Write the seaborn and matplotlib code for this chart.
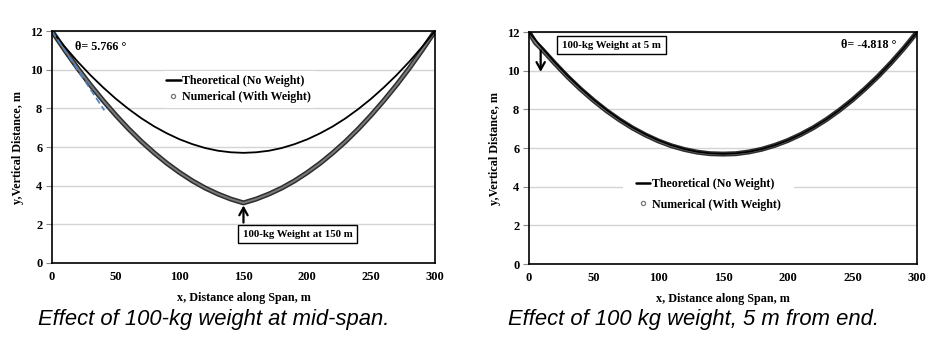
import matplotlib
matplotlib.use("Agg")
import matplotlib.pyplot as plt
from matplotlib.lines import Line2D
import seaborn as sns
import pandas as pd

# ---- data ----
x_theory = [0, 10, 20, 30, 40, 50, 60, 70, 80, 90, 100, 110, 120, 130, 140, 150,
            160, 170, 180, 190, 200, 210, 220, 230, 240, 250, 260, 270, 280, 290, 300]
y_theory = [12.0, 11.19, 10.43, 9.73, 9.09, 8.50, 7.97, 7.49, 7.07, 6.71, 6.40, 6.15, 5.95, 5.81, 5.73, 5.70,
            5.73, 5.81, 5.95, 6.15, 6.40, 6.71, 7.07, 7.49, 7.97, 8.50, 9.09, 9.73, 10.43, 11.19, 12.0]

x_num_mid = [0, 10, 20, 30, 40, 50, 60, 70, 80, 90, 100, 110, 120, 130, 140, 150,
             160, 170, 180, 190, 200, 210, 220, 230, 240, 250, 260, 270, 280, 290, 300]
y_num_mid = [12.0, 11.02, 10.09, 9.22, 8.41, 7.65, 6.94, 6.29, 5.70, 5.16, 4.68, 4.25, 3.88, 3.57, 3.31, 3.11,
             3.31, 3.57, 3.88, 4.25, 4.68, 5.16, 5.70, 6.29, 6.94, 7.65, 8.41, 9.22, 10.09, 11.02, 12.0]

x_num_end = [0, 5, 10, 20, 30, 40, 50, 60, 70, 80, 90, 100, 110, 120, 130, 140, 150,
             160, 170, 180, 190, 200, 210, 220, 230, 240, 250, 260, 270, 280, 290, 300]
y_num_end = [12.0, 11.45, 11.12, 10.38, 9.68, 9.04, 8.46, 7.93, 7.46, 7.04, 6.68, 6.37, 6.12, 5.93, 5.79, 5.71, 5.69,
             5.71, 5.80, 5.94, 6.14, 6.39, 6.70, 7.06, 7.48, 7.96, 8.49, 9.08, 9.72, 10.42, 11.18, 12.0]

x_tangent = [0, 41]
y_tangent = [12.0, 7.9]

x_ticks = [0, 50, 100, 150, 200, 250, 300]
y_ticks = [0, 2, 4, 6, 8, 10, 12]

labels = ["Theoretical (No Weight)", "Numerical (With Weight)"]
angles = ["θ= 5.766 °", "θ= -4.818 °"]
notes = ["100-kg Weight at 150 m", "100-kg Weight at 5 m"]
captions = ["Effect of 100-kg weight at mid-span.", "Effect of 100 kg weight, 5 m from end."]
xlabel = "x, Distance along Span, m"
ylabel = "y,Vertical Distance, m"

sns.set_theme(style="white")
plt.rcParams["font.family"] = ["Liberation Serif", "DejaVu Serif"]
plt.rcParams["font.weight"] = "bold"
plt.rcParams["text.color"] = "black"
plt.rcParams["axes.labelcolor"] = "black"
plt.rcParams["xtick.color"] = "black"
plt.rcParams["ytick.color"] = "black"

fig = plt.figure(figsize=(9.35, 3.42), dpi=100)
axL = fig.add_axes([0.0556, 0.231, 0.4096, 0.678])
axR = fig.add_axes([0.5658, 0.228, 0.415, 0.678])

df_t = pd.DataFrame({"x": x_theory, "y": y_theory})
df_m = pd.DataFrame({"x": x_num_mid, "y": y_num_mid})
df_e = pd.DataFrame({"x": x_num_end, "y": y_num_end})


def style_axes(ax):
    ax.set_xlim(0, 300)
    ax.set_ylim(0, 12)
    ax.set_xticks(x_ticks)
    ax.set_yticks(y_ticks)
    ax.yaxis.grid(True, color="#d4d4d4", lw=1.0)
    ax.xaxis.grid(False)
    ax.set_axisbelow(True)
    for s in ax.spines.values():
        s.set_color("black")
        s.set_linewidth(1.2)
        s.set_visible(True)
    ax.tick_params(axis="y", length=4, width=0.8, color="#888888", labelcolor="black",
                   direction="out", labelsize=9, pad=3, left=True)
    ax.tick_params(axis="x", length=0, labelsize=9, labelcolor="black", pad=6)
    for t in ax.get_xticklabels() + ax.get_yticklabels():
        t.set_fontweight("bold")
    ax.set_xlabel(xlabel, fontsize=8.7, fontweight="bold", labelpad=6)
    ax.set_ylabel(ylabel, fontsize=8.7, fontweight="bold", labelpad=4)


def num_band(ax, df):
    sns.lineplot(data=df, x="x", y="y", ax=ax, color="#2e2e2e", lw=3.6, sort=False, legend=False)
    sns.lineplot(data=df, x="x", y="y", ax=ax, color="#7a7a7a", lw=1.4, sort=False, legend=False)


handles = [Line2D([], [], color="black", lw=1.8),
           Line2D([], [], marker="o", ls="none", markersize=3, mfc="white", mec="#777777", mew=0.9)]

# ---- left panel ----
num_band(axL, df_m)
sns.lineplot(data=df_t, x="x", y="y", ax=axL, color="black", lw=1.3, sort=False, legend=False)
axL.plot(x_tangent, y_tangent, color="#4a7fc1", lw=1.2, ls=(0, (4, 2)))
style_axes(axL)
axL.text(18, 11.17, angles[0], fontsize=8.7, fontweight="bold", va="center", ha="left")
axL.annotate("", xy=(150, 3.12), xytext=(150, 1.95),
             arrowprops=dict(arrowstyle="->,head_length=0.45,head_width=0.25", lw=1.6, color="black"))
axL.text(149.5, 1.5, notes[0], fontsize=7.8, fontweight="bold", ha="left", va="center",
         bbox=dict(boxstyle="square,pad=0.45", fc="white", ec="black", lw=1.0))
legL = axL.legend(handles, labels, loc="center", bbox_to_anchor=(0.487, 0.75), fontsize=8.6,
                  frameon=True, facecolor="white", edgecolor="none", framealpha=1,
                  handlelength=1.2, handletextpad=0.1, labelspacing=0.28, borderpad=0.4)
for t in legL.get_texts():
    t.set_fontweight("bold")

# ---- right panel ----
num_band(axR, df_e)
sns.lineplot(data=df_t, x="x", y="y", ax=axR, color="black", lw=1.3, sort=False, legend=False)
style_axes(axR)
axR.text(241, 11.33, angles[1], fontsize=8.7, fontweight="bold", va="center", ha="left")
axR.annotate("", xy=(9, 9.8), xytext=(9, 11.2),
             arrowprops=dict(arrowstyle="->,head_length=0.45,head_width=0.25", lw=1.6, color="black"))
axR.text(25.5, 11.33, notes[1], fontsize=7.8, fontweight="bold", ha="left", va="center",
         bbox=dict(boxstyle="square,pad=0.45", fc="white", ec="black", lw=1.0))
legR = axR.legend(handles, labels, loc="center", bbox_to_anchor=(0.462, 0.30), fontsize=8.6,
                  frameon=True, facecolor="white", edgecolor="none", framealpha=1,
                  handlelength=1.2, handletextpad=0.1, labelspacing=0.7, borderpad=1.1)
for t in legR.get_texts():
    t.set_fontweight("bold")

# ---- captions ----
for xpos, cap in zip([38 / 935, 508 / 935], captions):
    fig.text(xpos, 1 - 320 / 342, cap, fontsize=15.8, fontstyle="italic", fontweight="normal",
             color="black", family=["Liberation Sans", "DejaVu Sans"], ha="left", va="center")

fig.savefig("out.png", dpi=100)
